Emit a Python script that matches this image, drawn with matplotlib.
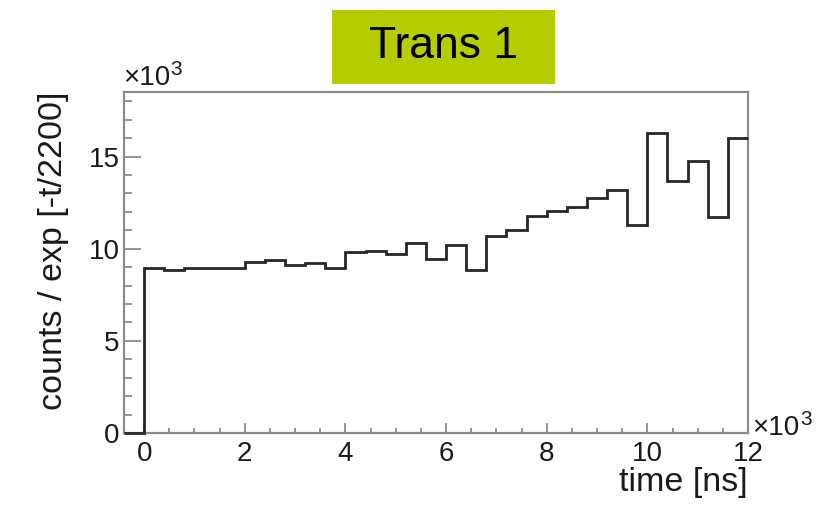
import numpy as np
import matplotlib
matplotlib.use("Agg")
import matplotlib.pyplot as plt
from matplotlib.patches import Rectangle
from matplotlib.ticker import MultipleLocator

plt.rcParams['font.family'] = ['Liberation Sans', 'DejaVu Sans']

# histogram: 400 ns bins from -400 to 12000 ns, counts corrected by exp(-t/2200)
bin_edges = np.arange(-400, 12001, 400)
counts = [0,
          8950, 8820, 8950, 8950, 8950, 9270, 9400, 9090, 9220, 8950,
          9800, 9890, 9700, 10310, 9450, 10220, 8820, 10710, 11030, 11760,
          12030, 12270, 12750, 13170, 11270, 16250, 13660, 14750, 11720, 16020]

title_text = "Trans 1"
x_label = "time [ns]"
y_label = "counts / exp [-t/2200]"

fig = plt.figure(figsize=(8.23, 5.09), dpi=100)
ax = fig.add_axes([124 / 823, 1 - 433 / 509, 624 / 823, 341 / 509])

# plot in units of 10^3
ax.stairs(np.array(counts) / 1e3, bin_edges / 1e3, baseline=None,
          color='#262626', linewidth=2.0, clip_on=False, zorder=3)

ax.set_xlim(-0.4, 12)
ax.set_ylim(0, 18.5)

ax.xaxis.set_major_locator(MultipleLocator(2))
ax.xaxis.set_minor_locator(MultipleLocator(0.5))
ax.yaxis.set_major_locator(MultipleLocator(5))
ax.yaxis.set_minor_locator(MultipleLocator(1))

axis_grey = '#8c8c8c'
for side in ax.spines.values():
    side.set_color(axis_grey)
    side.set_linewidth(1.6)

ax.tick_params(axis='both', which='both', direction='in', color=axis_grey,
               width=1.3, labelsize=20, labelcolor='#1a1a1a')
ax.tick_params(axis='y', which='major', length=12, pad=3)
ax.tick_params(axis='y', which='minor', length=6)
ax.tick_params(axis='x', which='major', length=7, pad=6)
ax.tick_params(axis='x', which='minor', length=3.5)

ax.set_xlabel(x_label, fontsize=24.5, color='#1a1a1a', loc='right', labelpad=0)
ax.set_ylabel(y_label, fontsize=24.5, color='#1a1a1a', loc='top', labelpad=14)


def exponent_label(x, y, dx, dy):
    base = ax.annotate('×10', xy=(x, y), xycoords='axes fraction',
                       xytext=(dx, dy), textcoords='offset points',
                       fontsize=20, color='#1a1a1a', ha='left', va='baseline')
    ax.annotate('3', xy=(1.0, 0.62), xycoords=base, xytext=(0.5, 0),
                textcoords='offset points', fontsize=15, color='#1a1a1a',
                ha='left', va='baseline')


# exponent markers for both axes
exponent_label(0.0, 1.0, -1, 5)
exponent_label(1.0, 0.0, 3, -1.5)

# title banner
fig.patches.append(Rectangle((332 / 823, 1 - 84 / 509), 223 / 823, 74 / 509,
                             transform=fig.transFigure, facecolor='#b5cc00',
                             edgecolor='none'))
fig.text(443 / 823, 1 - 47 / 509, title_text, fontsize=32, color='black',
         ha='center', va='center')

fig.savefig("out.png", dpi=100, facecolor='white')
